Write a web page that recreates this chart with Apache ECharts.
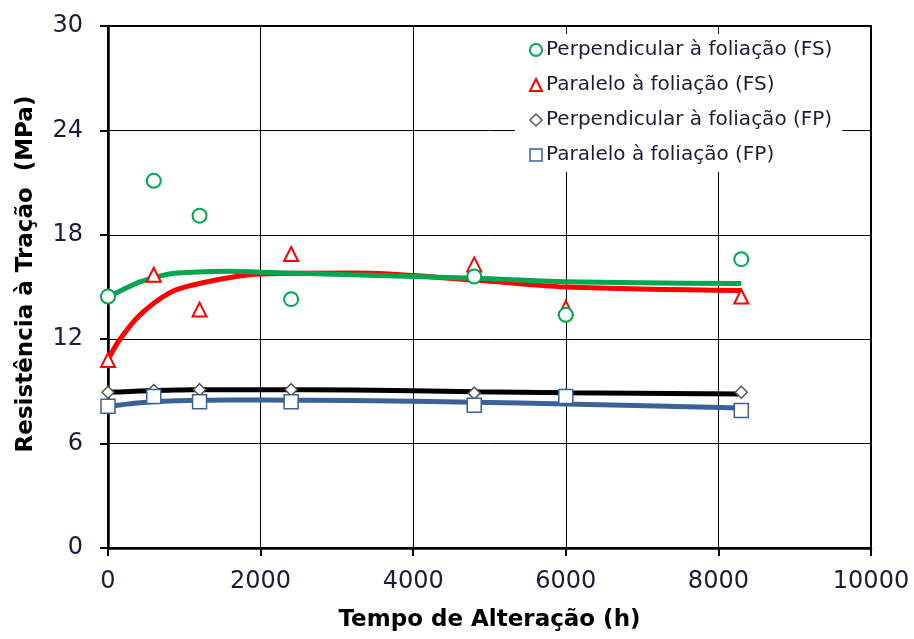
<!DOCTYPE html>
<html><head><meta charset="utf-8">
<script src="https://cdn.jsdelivr.net/npm/echarts@6/dist/echarts.min.js"></script>
<style>html,body{margin:0;padding:0;background:#fff}#c{width:914px;height:639px}</style>
</head><body><div id="c"></div>
<script>
// measured points (time in h, strength in MPa)
const timePts = [0, 600, 1200, 2400, 4800, 6000, 8300];
const perpFS = [14.45, 21.1, 19.1, 14.3, 15.6, 13.4, 16.6];
const paraFS = [10.8, 15.7, 13.7, 16.9, 16.3, 13.8, 14.45];
const perpFP = [8.95, 9.05, 9.1, 9.1, 8.9, 8.8, 8.95];
const paraFP = [8.15, 8.7, 8.4, 8.4, 8.2, 8.7, 7.9];
// fitted trend curves
const fitX = [0, 150, 420, 800, 1100, 1600, 2000, 3200, 4800, 6000, 8300];
const fitPerpFS = [14.45, 14.75, 15.3, 15.75, 15.85, 15.9, 15.85, 15.7, 15.5, 15.3, 15.2];
const fitParaFS = [10.8, 11.95, 13.4, 14.65, 15.1, 15.55, 15.75, 15.8, 15.4, 15.0, 14.8];
const fitPerpFP = [8.95, 8.97, 9.02, 9.07, 9.1, 9.1, 9.1, 9.08, 8.98, 8.92, 8.85];
const fitParaFP = [8.15, 8.22, 8.35, 8.45, 8.48, 8.5, 8.5, 8.48, 8.38, 8.28, 8.05];
const names = ['Perpendicular à foliação (FS)', 'Paralelo à foliação (FS)', 'Perpendicular à foliação (FP)', 'Paralelo à foliação (FP)'];
const xTicks = [0, 2000, 4000, 6000, 8000, 10000];
const yTicks = [0, 6, 12, 18, 24, 30];

const GREEN = '#00A650', RED = '#FF0000', BLACK = '#000000', BLUE = '#3A6298';
const zip = (xs, ys) => xs.map((x, i) => [x, ys[i]]);
const font = '"DejaVu Sans", "Liberation Sans", Arial, sans-serif';
const txt = '#1b1b3a';

const fit = (ys, color) => ({
  type: 'line', data: zip(fitX, ys), smooth: 0.35, showSymbol: false, symbol: 'none',
  lineStyle: {color, width: 5}, silent: true, z: 2
});
const pts = (name, ys, symbol, size, border, bw) => ({
  type: 'scatter', name, data: zip(timePts, ys), symbol, symbolSize: size,
  itemStyle: {color: '#fff', borderColor: border, borderWidth: bw, opacity: 1}, z: 5
});

const chart = echarts.init(document.getElementById('c'), null, {renderer: 'canvas'});
chart.setOption({
  animation: false,
  backgroundColor: '#fff',
  grid: {left: 108, right: 43, top: 26, bottom: 91, show: true, borderColor: '#000', borderWidth: 2, backgroundColor: 'transparent'},
  legend: {
    orient: 'vertical', left: 515, top: 34, itemGap: 15, itemWidth: 12, itemHeight: 12,
    backgroundColor: '#fff', padding: [6, 10, 7, 14],
    textStyle: {fontFamily: font, fontSize: 20, color: txt, padding: [0, 0, 0, -1]},
    data: [
      {name: names[0], icon: 'circle', itemStyle: {color: '#fff', borderColor: GREEN, borderWidth: 2}},
      {name: names[1], icon: 'triangle', itemStyle: {color: '#fff', borderColor: RED, borderWidth: 2}},
      {name: names[2], icon: 'diamond', itemStyle: {color: '#fff', borderColor: '#555', borderWidth: 1.5}},
      {name: names[3], icon: 'rect', itemStyle: {color: '#fff', borderColor: BLUE, borderWidth: 1.5}}
    ]
  },
  xAxis: {
    type: 'value', min: xTicks[0], max: xTicks[xTicks.length - 1], interval: 2000,
    name: 'Tempo de Alteração (h)', nameLocation: 'middle', nameGap: 61,
    nameTextStyle: {fontFamily: font, fontSize: 23, fontWeight: 'bold', color: '#000'},
    axisLine: {show: true, onZero: false, lineStyle: {color: '#000', width: 2.5}},
    axisTick: {show: true, length: 8, lineStyle: {color: '#000', width: 2}},
    axisLabel: {fontFamily: font, fontSize: 24, color: txt, margin: 22, formatter: v => String(v)},
    splitLine: {show: true, lineStyle: {color: '#000', width: 1}}
  },
  yAxis: {
    type: 'value', min: yTicks[0], max: yTicks[yTicks.length - 1], interval: 6,
    name: 'Resistência à Tração  (MPa)', nameLocation: 'middle', nameGap: 70, nameRotate: 90,
    nameTextStyle: {fontFamily: font, fontSize: 23, fontWeight: 'bold', color: '#000', padding: [0, 0, 0, 26]},
    axisLine: {show: true, onZero: false, lineStyle: {color: '#000', width: 2.5}},
    axisTick: {show: true, length: 8, lineStyle: {color: '#000', width: 2}},
    axisLabel: {fontFamily: font, fontSize: 24, color: txt, margin: 25},
    splitLine: {show: true, lineStyle: {color: '#000', width: 1}}
  },
  series: [
    fit(fitPerpFP, BLACK),
    fit(fitParaFP, BLUE),
    fit(fitParaFS, RED),
    fit(fitPerpFS, GREEN),
    pts(names[2], perpFP, 'diamond', 12, '#555', 1.5),
    pts(names[3], paraFP, 'rect', 14, BLUE, 1.5),
    pts(names[1], paraFS, 'triangle', 14, RED, 2),
    pts(names[0], perpFS, 'circle', 14, GREEN, 2)
  ]
});
</script></body></html>
